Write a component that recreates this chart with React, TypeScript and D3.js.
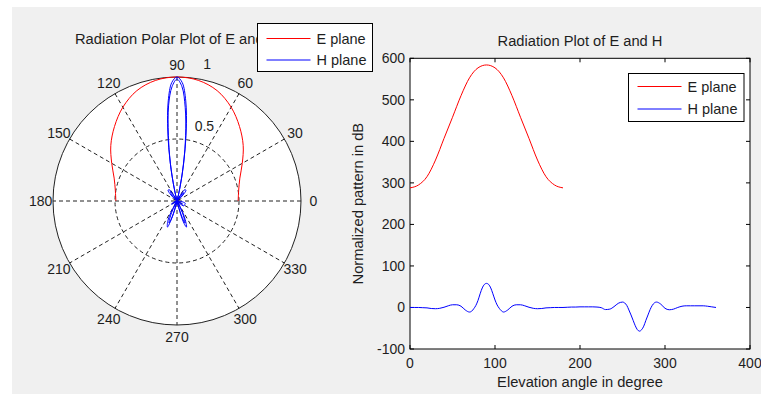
import React, { useRef, useEffect } from 'react';
import * as d3 from 'd3';

// E plane pattern, 0..180 degrees
const eAngles = [0, 10, 20, 30, 40, 50, 60, 70, 80, 90, 100, 110, 120, 130, 140, 150, 160, 170, 180];
const eValues = [288, 295, 315, 355, 407, 458, 510, 553, 577, 584, 577, 553, 510, 458, 407, 355, 315, 295, 288];

// H plane pattern, 0..360 degrees (denser around the main lobes)
const hAngles = [
  0, 5, 10, 15, 20, 25, 30, 35, 40, 45, 50, 55, 60, 65, 70, 72.5, 75, 77.5, 80, 82.5, 85, 87.5, 90,
  92.5, 95, 97.5, 100, 102.5, 105, 107.5, 110, 115, 120, 125, 130, 135, 140, 145, 150, 155, 160, 165,
  170, 175, 180, 185, 190, 195, 200, 205, 210, 215, 220, 225, 230, 235, 240, 245, 250, 255, 257.5,
  260, 262.5, 265, 267.5, 270, 272.5, 275, 277.5, 280, 282.5, 285, 287.5, 290, 295, 300, 305, 310,
  315, 320, 325, 330, 335, 340, 345, 350, 355, 360,
];
const hValues = [
  0, 0, 0, -0.5, -1, -2.5, -3, -2, 0.5, 4, 6.5, 6.5, 3, -6, -11, -9, -3, 5, 17, 33, 47, 55.5, 58,
  55.5, 47, 33, 18, 6, -2, -8, -11, -6, 3, 6.5, 6.5, 4, 0.5, -2, -3, -2.5, -1, -0.5,
  0, 0, 0, 0.5, 1, 1, 1.5, 1.5, 1.5, 1.5, 1, -0.5, -5, -4, 2, 10, 13, 5, -6,
  -18, -31, -44, -53.5, -57, -53.5, -45, -31, -18, -5, 5, 11, 13, 8, -2, -5.5, -4,
  0, 3, 4, 4, 4, 4, 4, 3, 1.5, 0,
];

const polarAngleTicks = [0, 30, 60, 90, 120, 150, 180, 210, 240, 270, 300, 330];
const polarRingTicks = [0.5, 1];
const xTicks = [0, 100, 200, 300, 400];
const yTicks = [-100, 0, 100, 200, 300, 400, 500, 600];
const legendLabels = ['E plane', 'H plane'];

const FONT = '"Liberation Sans", Arial, sans-serif';
const TEXT = '#1e1e1e';

const App = () => {
  const ref = useRef<SVGSVGElement>(null);

  useEffect(() => {
    const svg = d3.select(ref.current);
    svg.selectAll('*').remove();

    const width = 761;
    const height = 394;

    svg.append('rect').attr('width', width).attr('height', height).attr('fill', '#fff');
    svg.append('rect').attr('x', 12).attr('y', 7).attr('width', width - 12).attr('height', height - 7).attr('fill', '#f0f0f0');

    // ---------- polar plot ----------
    const cx = 177;
    const cy = 201;
    const R = 124;
    const rScale = d3.scaleLinear().domain([0, 1]).range([0, R]);
    const aScale = d3.scaleLinear().domain([0, 360]).range([0, 2 * Math.PI]);
    const px = (deg: number, r: number) => cx + rScale(r) * Math.cos(aScale(deg));
    const py = (deg: number, r: number) => cy - rScale(r) * Math.sin(aScale(deg));

    const polar = svg.append('g');
    polar.append('circle').attr('cx', cx).attr('cy', cy).attr('r', rScale(1))
      .attr('fill', '#fff').attr('stroke', '#222').attr('stroke-width', 1);

    polar.append('circle').attr('cx', cx).attr('cy', cy).attr('r', rScale(0.5))
      .attr('fill', 'none').attr('stroke', '#222').attr('stroke-dasharray', '4,3');

    polarAngleTicks.filter(a => a < 180).forEach(a => {
      polar.append('line')
        .attr('x1', px(a, 1)).attr('y1', py(a, 1))
        .attr('x2', px(a + 180, 1)).attr('y2', py(a + 180, 1))
        .attr('stroke', '#222').attr('stroke-dasharray', '4,3');
    });

    polarAngleTicks.forEach(a => {
      polar.append('text')
        .attr('x', px(a, 1.1)).attr('y', py(a, 1.1) + 5)
        .attr('text-anchor', 'middle')
        .attr('font-family', FONT).attr('font-size', 14).attr('fill', TEXT)
        .text(a);
    });

    polarRingTicks.forEach(r => {
      polar.append('text')
        .attr('x', px(82, r) + 9).attr('y', py(82, r) - 9)
        .attr('font-family', FONT).attr('font-size', 14).attr('fill', TEXT)
        .text(r);
    });

    const eMax = d3.max(eValues) as number;
    const hMax = d3.max(hValues) as number;

    const radial = d3.lineRadial<[number, number]>()
      .angle(d => aScale(90 - d[0]))
      .radius(d => rScale(d[1]))
      .curve(d3.curveCatmullRom);

    const ePolar = eAngles.map((a, i) => [a, eValues[i] / eMax] as [number, number]);
    const hPolar = hAngles.map((a, i) => [a, hValues[i] / hMax] as [number, number]);

    polar.append('path').attr('transform', `translate(${cx},${cy})`)
      .attr('d', radial(ePolar)).attr('fill', 'none').attr('stroke', '#ff0000').attr('stroke-width', 1);
    polar.append('path').attr('transform', `translate(${cx},${cy})`)
      .attr('d', radial(hPolar)).attr('fill', 'none').attr('stroke', '#0000ff').attr('stroke-width', 1);

    svg.append('text')
      .attr('x', 75).attr('y', 44)
      .attr('font-family', FONT).attr('font-size', 14.7).attr('fill', TEXT)
      .text('Radiation Polar Plot of E and H');

    // ---------- cartesian plot ----------
    const x0 = 410, x1 = 750, yTop = 58.3, yBot = 349;
    const xScale = d3.scaleLinear().domain([0, 400]).range([x0, x1]);
    const yScale = d3.scaleLinear().domain([-100, 600]).range([yBot, yTop]);

    const plot = svg.append('g');
    plot.append('rect').attr('x', x0).attr('y', yTop).attr('width', x1 - x0).attr('height', yBot - yTop)
      .attr('fill', '#fff').attr('stroke', '#000').attr('stroke-width', 1);

    const tick = 4;
    xTicks.forEach(t => {
      const x = xScale(t);
      plot.append('line').attr('x1', x).attr('x2', x).attr('y1', yBot).attr('y2', yBot - tick).attr('stroke', '#000');
      plot.append('line').attr('x1', x).attr('x2', x).attr('y1', yTop).attr('y2', yTop + tick).attr('stroke', '#000');
      plot.append('text').attr('x', x).attr('y', yBot + 19).attr('text-anchor', 'middle')
        .attr('font-family', FONT).attr('font-size', 14).attr('fill', TEXT).text(t);
    });
    yTicks.forEach(t => {
      const y = yScale(t);
      plot.append('line').attr('x1', x0).attr('x2', x0 + tick).attr('y1', y).attr('y2', y).attr('stroke', '#000');
      plot.append('line').attr('x1', x1).attr('x2', x1 - tick).attr('y1', y).attr('y2', y).attr('stroke', '#000');
      plot.append('text').attr('x', x0 - 5).attr('y', y + 5).attr('text-anchor', 'end')
        .attr('font-family', FONT).attr('font-size', 14).attr('fill', TEXT).text(t);
    });

    const line = d3.line<[number, number]>()
      .x(d => xScale(d[0]))
      .y(d => yScale(d[1]))
      .curve(d3.curveMonotoneX);

    plot.append('path')
      .attr('d', line(eAngles.map((a, i) => [a, eValues[i]] as [number, number])))
      .attr('fill', 'none').attr('stroke', '#ff0000').attr('stroke-width', 1);
    plot.append('path')
      .attr('d', line(hAngles.map((a, i) => [a, hValues[i]] as [number, number])))
      .attr('fill', 'none').attr('stroke', '#0000ff').attr('stroke-width', 1);

    svg.append('text').attr('x', (x0 + x1) / 2).attr('y', 46).attr('text-anchor', 'middle')
      .attr('font-family', FONT).attr('font-size', 14.7).attr('fill', TEXT)
      .text('Radiation Plot of E and H');
    svg.append('text').attr('x', (x0 + x1) / 2).attr('y', 387).attr('text-anchor', 'middle')
      .attr('font-family', FONT).attr('font-size', 14.7).attr('fill', TEXT)
      .text('Elevation angle in degree');
    svg.append('text').attr('transform', `translate(363,${(yTop + yBot) / 2}) rotate(-90)`)
      .attr('text-anchor', 'middle')
      .attr('font-family', FONT).attr('font-size', 14.7).attr('fill', TEXT)
      .text('Normalized pattern in dB');

    // ---------- legends ----------
    const colors = ['#ff0000', '#0000ff'];
    const drawLegend = (lx: number, ly: number, lw: number, lh: number, rowY: number[]) => {
      const g = svg.append('g');
      g.append('rect').attr('x', lx).attr('y', ly).attr('width', lw).attr('height', lh)
        .attr('fill', '#fff').attr('stroke', '#000').attr('stroke-width', 1);
      legendLabels.forEach((label, i) => {
        g.append('line').attr('x1', lx + 9).attr('x2', lx + 53).attr('y1', rowY[i]).attr('y2', rowY[i])
          .attr('stroke', colors[i]).attr('stroke-width', 1);
        g.append('text').attr('x', lx + 59).attr('y', rowY[i] + 5)
          .attr('font-family', FONT).attr('font-size', 14.5).attr('fill', TEXT).text(label);
      });
    };
    drawLegend(257.5, 23.5, 115, 48, [38.5, 60]);
    drawLegend(628.5, 73.5, 115.5, 48, [86.5, 109]);
  }, []);

  return (
    <svg ref={ref} width={761} height={394}
      style={{ position: 'absolute', left: 0, top: 0, display: 'block' }} />
  );
};

export default App;
